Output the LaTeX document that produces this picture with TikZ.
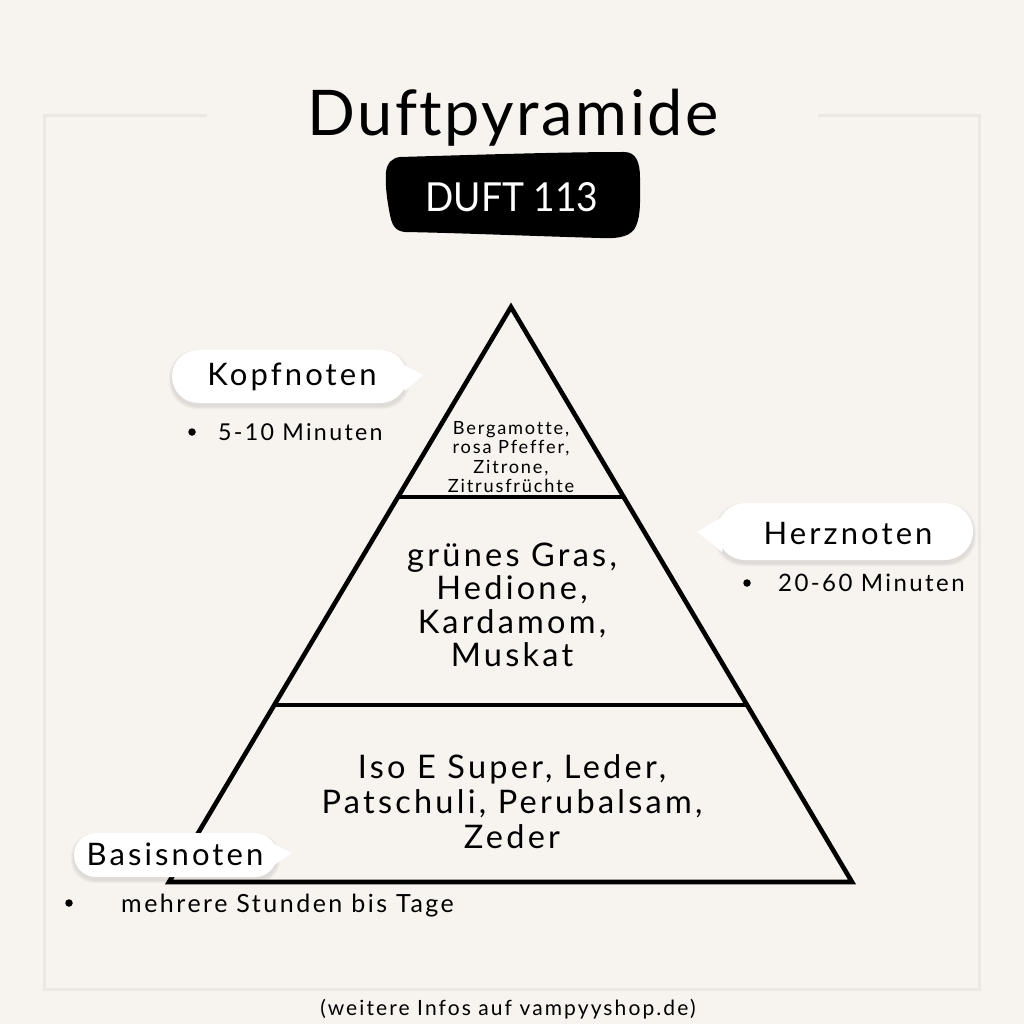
\documentclass[tikz,border=0pt]{standalone}
\usepackage{fontspec}
\setmainfont{Lato}
\newfontfamily\bodyfont[LetterSpace=10,Ligatures=NoCommon]{Lato}
\newfontfamily\titlefont[LetterSpace=4,Ligatures=NoCommon]{Lato}
\newfontfamily\badgefont[Ligatures=NoCommon]{Lato}
\usetikzlibrary{calc}
\definecolor{bgcol}{HTML}{F7F3EF}
\definecolor{framecol}{HTML}{ECE7E2}
\begin{document}
\begin{tikzpicture}[x=1pt,y=-1pt,
  frameline/.style={draw=framecol,line width=3pt},
  pyrline/.style={line width=4.6pt,line join=miter},
  bubblebg/.style={fill=white},
  softshade/.style={fill=black,opacity=0.03},
  bubbletext/.style={font=\bodyfont\fontsize{31}{36}\selectfont,anchor=base,inner sep=0pt},
  notetext/.style={font=\bodyfont\fontsize{24}{28}\selectfont,anchor=base west,inner sep=0pt},
  bulletdot/.style={circle,fill=black,inner sep=0pt,minimum size=7.5pt},
  blocktext/.style={align=center,inner sep=0pt,anchor=center}]
\fill[bgcol] (0,0) rectangle (1024,1024);
\useasboundingbox (0,0) rectangle (1024,1024);
% frame
\draw[frameline] (207,116) -- (44,116) -- (44,989) -- (979,989) -- (979,116) -- (818,116);
% title
\node[font=\titlefont\fontsize{63}{66}\selectfont,anchor=base,inner sep=0pt] (title) at (513,136) {Duftpyramide};
% badge
\fill[black] (400,157) .. controls (470,155) and (560,152) .. (624,152)
  .. controls (636,152) and (640,162) .. (640,178)
  .. controls (640,200) and (641,215) .. (636,226)
  .. controls (632,236) and (620,239) .. (600,238)
  .. controls (530,236) and (460,233) .. (405,232)
  .. controls (395,231) and (392,225) .. (390,215)
  .. controls (387,200) and (385,185) .. (386,172)
  .. controls (387,163) and (392,158) .. (400,157) -- cycle;
\node[text=white,font=\badgefont\fontsize{40}{44}\selectfont,anchor=base,inner sep=0pt,xscale=0.93,transform shape] (badge) at (512,212) {DUFT 113};
% pyramid
\coordinate (apex) at (511,307);
\coordinate (bl) at (169,882);
\coordinate (br) at (852,882);
\coordinate (l1) at ($(apex)!0.3304!(bl)$);
\coordinate (r1) at ($(apex)!0.3304!(br)$);
\coordinate (l2) at ($(apex)!0.6922!(bl)$);
\coordinate (r2) at ($(apex)!0.6922!(br)$);
\draw[pyrline] (apex) -- (br) -- (bl) -- cycle;
\draw[pyrline] (l1) -- (r1);
\draw[pyrline] (l2) -- (r2);
\node[blocktext,font=\bodyfont\fontsize{18.2}{19.4}\selectfont] (top) at (511,457) {Bergamotte,\\rosa Pfeffer,\\Zitrone,\\Zitrusfrüchte};
\node[blocktext,font=\bodyfont\fontsize{32.5}{33.5}\selectfont] (mid) at (512,605) {grünes Gras,\\Hedione,\\Kardamom,\\Muskat};
\node[blocktext,font=\bodyfont\fontsize{32.5}{35}\selectfont] (base) at (512,802) {Iso E Super, Leder,\\Patschuli, Perubalsam,\\Zeder};
% Kopfnoten bubble
\foreach \e in {1,2,3}{
  \fill[softshade,rounded corners=27] (172-\e,350+3-\e) rectangle (407+\e,403+3+\e);}
\fill[bubblebg,rounded corners=26.5] (172,350) rectangle (407,403);
\fill[bubblebg] (393,359) -- (423,375) -- (405,391) -- cycle;
\node[bubbletext] (kopf) at (292,385) {Kopfnoten};
\node[bulletdot] (d1) at (192,432) {};
\node[notetext,font=\bodyfont\fontsize{23.2}{28}\selectfont] (kopft) at (218,440) {5-10 Minuten};
% Herznoten bubble
\foreach \e in {1,2,3}{
  \fill[softshade,rounded corners=29] (717-\e,503+3-\e) rectangle (973+\e,560+3+\e);}
\fill[bubblebg,rounded corners=28.5] (717,503) rectangle (973,560);
\fill[bubblebg] (727,514) -- (697,532) -- (722,552) -- cycle;
\node[bubbletext] (herz) at (848,544) {Herznoten};
\node[bulletdot] (d2) at (747,583) {};
\node[notetext,font=\bodyfont\fontsize{24}{28}\selectfont] (herzt) at (778,591.5) {20-60 Minuten};
% Basisnoten bubble
\foreach \e in {1,2,3}{
  \fill[softshade,rounded corners=23] (74-\e,833+3-\e) rectangle (277+\e,877+3+\e);}
\fill[bubblebg,rounded corners=22] (74,833) rectangle (277,877);
\fill[bubblebg] (264,839) -- (292,853) -- (268,869) -- cycle;
\node[bubbletext,font=\bodyfont\fontsize{31}{36}\selectfont] (basis) at (175,865) {Basisnoten};
\node[bulletdot] (d3) at (69,903) {};
\node[notetext,font=\bodyfont\fontsize{25}{28}\selectfont] (basist) at (121,912) {mehrere Stunden bis Tage};
% footer
\node[font=\bodyfont\fontsize{21}{24}\selectfont,anchor=base,inner sep=0pt] (footer) at (508,1015) {(weitere Infos auf vampyyshop.de)};
\end{tikzpicture}
\end{document}
